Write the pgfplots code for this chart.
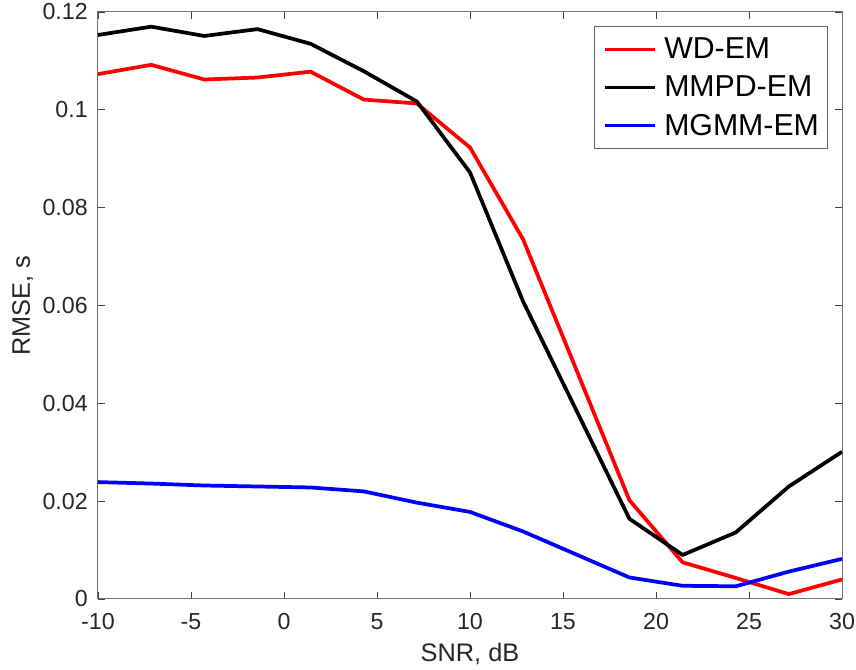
\documentclass[border=0pt]{standalone}
\usepackage{fontspec}
\setmainfont{Liberation Sans}
\usepackage{pgfplots}
\pgfplotsset{compat=1.18}
\definecolor{axgray}{RGB}{38,38,38}
\begin{document}
\begin{tikzpicture}
\begin{axis}[
  width=558pt, height=440.25pt, scale only axis,
  xmin=-10, xmax=30, ymin=0, ymax=0.12,
  xtick={-10,-5,0,5,10,15,20,25,30},
  xticklabels={-10,-5,0,5,10,15,20,25,30},
  ytick={0,0.02,0.04,0.06,0.08,0.1,0.12},
  yticklabels={0,0.02,0.04,0.06,0.08,0.1,0.12},
  tick align=inside, major tick length=5pt,
  tick style={black!75, line width=0.6pt},
  axis line style={black!55, line width=0.75pt},
  tick label style={font=\fontsize{17.4}{20}\selectfont, text=axgray, inner sep=0pt},
  xticklabel style={anchor=north, yshift=-10.5pt},
  yticklabel style={anchor=east, xshift=-7.5pt},
  xlabel={SNR, dB}, ylabel={RMSE, s},
  label style={font=\fontsize{19}{22}\selectfont, text=axgray, inner sep=0pt},
  xlabel style={at={(axis description cs:0.5,-0.0750)}, anchor=north},
  ylabel style={at={(axis description cs:-0.1156,0.5)}, anchor=north},
  legend cell align=left,
  legend image code/.code={\draw[#1] (0pt,0pt) -- (37.5pt,0pt);},
  legend style={at={(rel axis cs:1,1)}, xshift=-10.5pt, yshift=-10.5pt, anchor=north east,
    draw=black!60, line width=0.6pt,
    font=\fontsize{22.7}{24}\selectfont, row sep=0pt, column sep=5.25pt,
    inner xsep=6.5pt, inner ysep=3pt,
    nodes={inner xsep=0pt, inner ysep=5.7pt}},
  every axis plot/.append style={line width=2.8pt, line join=round},
]
\addplot[red] coordinates {
(-10,0.1073) (-7.1429,0.1092) (-4.2857,0.1062) (-1.4286,0.1066) (1.4286,0.1078)
(4.2857,0.1021) (7.1429,0.1013) (10,0.0923) (12.857,0.0735) (15.714,0.0469)
(18.571,0.0202) (21.429,0.0075) (24.286,0.0043) (27.143,0.0010) (30,0.0040)};
\addlegendentry{WD-EM}
\addplot[black] coordinates {
(-10,0.1153) (-7.1429,0.1170) (-4.2857,0.1151) (-1.4286,0.1165) (1.4286,0.1135)
(4.2857,0.1079) (7.1429,0.1017) (10,0.0872) (12.857,0.0608) (15.714,0.0386)
(18.571,0.0164) (21.429,0.0090) (24.286,0.0136) (27.143,0.0230) (30,0.0301)};
\addlegendentry{MMPD-EM}
\addplot[blue] coordinates {
(-10,0.0239) (-7.1429,0.0236) (-4.2857,0.0232) (-1.4286,0.0230) (1.4286,0.0228)
(4.2857,0.0220) (7.1429,0.0197) (10,0.0178) (12.857,0.0138) (15.714,0.0091)
(18.571,0.0044) (21.429,0.0027) (24.286,0.0026) (27.143,0.0056) (30,0.0082)};
\addlegendentry{MGMM-EM}
\end{axis}
\path (current axis.south west) ++(-73.5pt,-53.25pt) coordinate (bbA);
\path (current axis.north east) ++(10.5pt,9pt) coordinate (bbB);
\pgfresetboundingbox
\path[use as bounding box] (bbA) rectangle (bbB);
\end{tikzpicture}
\end{document}
